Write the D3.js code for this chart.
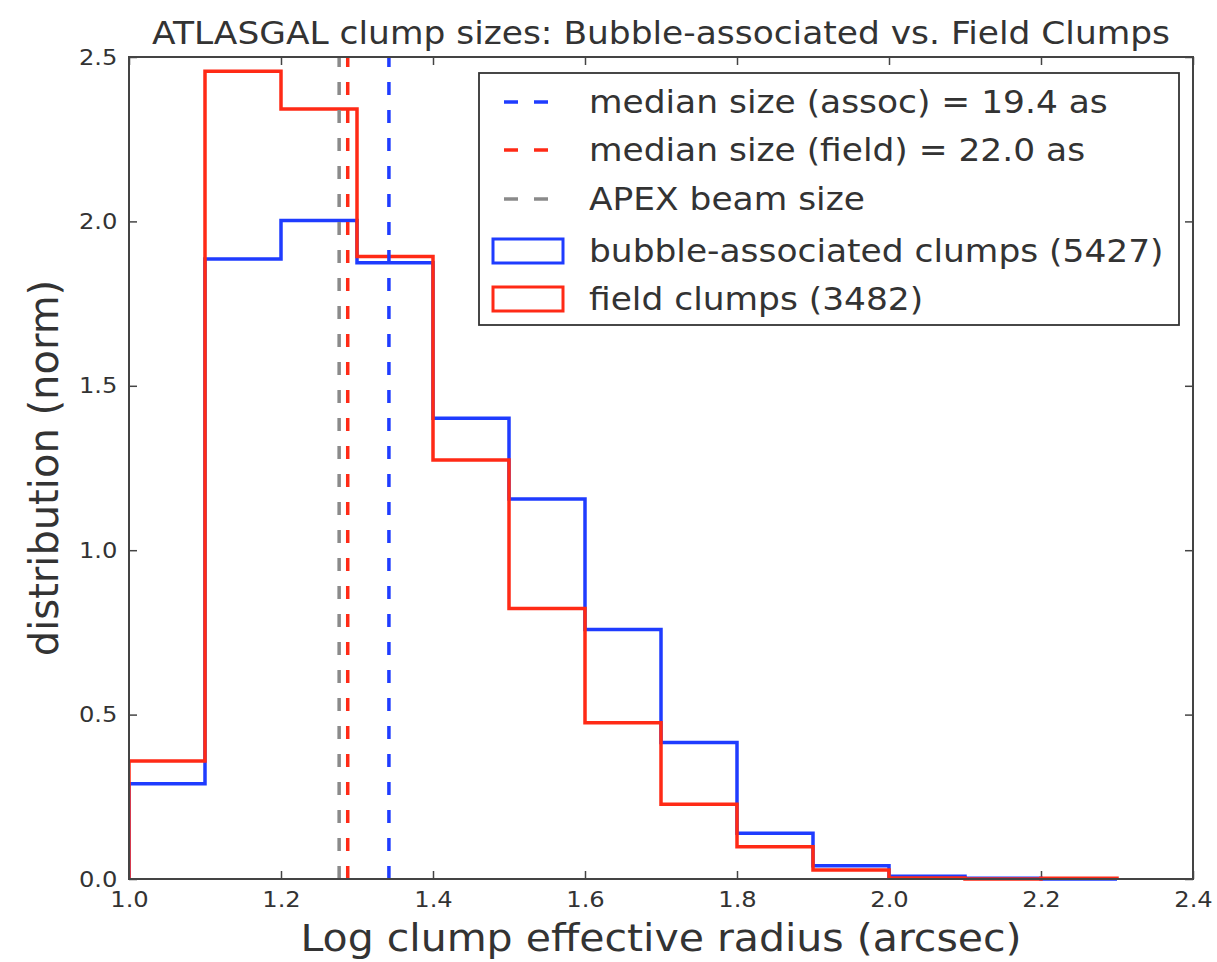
<!DOCTYPE html>
<html>
<head>
<meta charset="utf-8">
<script src="https://cdn.jsdelivr.net/npm/d3@7"></script>
<style>
  html, body { margin: 0; padding: 0; background: #fff; }
  svg { display: block; font-family: "DejaVu Sans", sans-serif; }
</style>
</head>
<body>
<svg id="chart" width="1217" height="962"></svg>
<script>
// Histogram bin edges (log10 of effective radius in arcsec)
const binEdges = [1.0, 1.1, 1.2, 1.3, 1.4, 1.5, 1.6, 1.7, 1.8, 1.9, 2.0, 2.1, 2.2, 2.3];
// Normalised distribution per bin
const assocValues = [0.29, 1.886, 2.003, 1.874, 1.401, 1.156, 0.759, 0.415, 0.139, 0.040, 0.008, 0.002, 0.0];
const fieldValues = [0.359, 2.457, 2.342, 1.893, 1.274, 0.823, 0.475, 0.227, 0.098, 0.027, 0.003, 0.0, 0.002];
// Vertical reference lines (log10 arcsec)
const medianAssoc = 1.342;
const medianField = 1.2878;
const beamSize = 1.2765;
// Tick values
const xTicks = [1.0, 1.2, 1.4, 1.6, 1.8, 2.0, 2.2, 2.4];
const yTicks = [0.0, 0.5, 1.0, 1.5, 2.0, 2.5];
// Legend entries
const legendLabels = [
  "median size (assoc) = 19.4 as",
  "median size (field) = 22.0 as",
  "APEX beam size",
  "bubble-associated clumps (5427)",
  "field clumps (3482)"
];

const BLUE = "#1f3cff", RED = "#ff2a16", GRAY = "#8a8a8a";
const AXIS = "#444", TEXT = "#333";
const WIDE = "scale(1.1,1)";   // slightly widened lettering

const svg = d3.select("#chart");
const plotL = 129, plotR = 1193, plotT = 57, plotB = 879;

const x = d3.scaleLinear().domain([1.0, 2.4]).range([plotL, plotR]);
const y = d3.scaleLinear().domain([0, 2.5]).range([plotB, plotT]);

svg.append("defs").append("clipPath").attr("id", "plotclip")
  .append("rect").attr("x", plotL).attr("y", plotT - 2)
  .attr("width", plotR - plotL).attr("height", plotB - plotT + 4);

// Axes with inward ticks on all four sides
function styleAxis(g) {
  g.select(".domain").remove();
  g.selectAll(".tick line").attr("stroke", AXIS).attr("stroke-width", 1.5);
  g.selectAll(".tick text").attr("fill", TEXT).attr("font-size", 22)
    .attr("font-family", "DejaVu Sans, sans-serif")
    .attr("transform", WIDE);
}
const fmt = d3.format(".1f");
svg.append("g").attr("transform", `translate(0,${plotB})`)
  .call(d3.axisBottom(x).tickValues(xTicks).tickFormat(fmt).tickSize(-8).tickPadding(12))
  .call(styleAxis);
svg.append("g").attr("transform", `translate(0,${plotT})`)
  .call(d3.axisTop(x).tickValues(xTicks).tickFormat("").tickSize(-8))
  .call(styleAxis);
svg.append("g").attr("transform", `translate(${plotL},0)`)
  .call(d3.axisLeft(y).tickValues(yTicks).tickFormat(fmt).tickSize(-8).tickPadding(10.5))
  .call(styleAxis);
svg.append("g").attr("transform", `translate(${plotR},0)`)
  .call(d3.axisRight(y).tickValues(yTicks).tickFormat("").tickSize(-8))
  .call(styleAxis);

// Step outline of a histogram
function stepPoints(values) {
  const pts = [[binEdges[0], 0]];
  values.forEach((v, i) => {
    pts.push([binEdges[i], v]);
    pts.push([binEdges[i + 1], v]);
  });
  pts.push([binEdges[values.length], 0]);
  return pts;
}
const line = d3.line().x(d => x(d[0])).y(d => y(d[1]));

const plot = svg.append("g").attr("clip-path", "url(#plotclip)");
plot.append("path").datum(stepPoints(assocValues))
  .attr("d", line).attr("fill", "none").attr("stroke", BLUE)
  .attr("stroke-width", 3.5).attr("stroke-linejoin", "miter");
plot.append("path").datum(stepPoints(fieldValues))
  .attr("d", line).attr("fill", "none").attr("stroke", RED)
  .attr("stroke-width", 3.5).attr("stroke-linejoin", "miter");

// Dashed vertical markers
[[medianAssoc, BLUE], [medianField, RED], [beamSize, GRAY]].forEach(([v, c]) => {
  plot.append("line")
    .attr("x1", x(v)).attr("x2", x(v))
    .attr("y1", y(0)).attr("y2", y(2.5))
    .attr("stroke", c).attr("stroke-width", 3.5)
    .attr("stroke-dasharray", "13,15");
});

// Frame
svg.append("rect").attr("x", plotL).attr("y", plotT)
  .attr("width", plotR - plotL).attr("height", plotB - plotT)
  .attr("fill", "none").attr("stroke", AXIS).attr("stroke-width", 2);

// Legend
const lg = svg.append("g");
lg.append("rect").attr("x", 479).attr("y", 73).attr("width", 700).attr("height", 252)
  .attr("fill", "#fff").attr("stroke", "#333").attr("stroke-width", 1.8);
const rowY = [102, 150, 199, 251, 299];
const handleColors = [BLUE, RED, GRAY];
handleColors.forEach((c, i) => {
  lg.append("line").attr("x1", 504).attr("x2", 548)
    .attr("y1", rowY[i]).attr("y2", rowY[i])
    .attr("stroke", c).attr("stroke-width", 3.5)
    .attr("stroke-dasharray", "14,16");
});
[BLUE, RED].forEach((c, i) => {
  lg.append("rect").attr("x", 493).attr("y", rowY[3 + i] - 12)
    .attr("width", 70).attr("height", 24)
    .attr("fill", "none").attr("stroke", c).attr("stroke-width", 3);
});
legendLabels.forEach((t, i) => {
  lg.append("g").attr("transform", `translate(589,${rowY[i]}) ${WIDE}`)
    .append("text").attr("dy", "0.36em")
    .attr("font-size", 31.3).attr("fill", TEXT).text(t);
});

// Title and axis labels
svg.append("g").attr("transform", `translate(${(plotL + plotR) / 2},44) ${WIDE}`)
  .append("text").attr("text-anchor", "middle").attr("font-size", 31.3).attr("fill", TEXT)
  .text("ATLASGAL clump sizes: Bubble-associated vs. Field Clumps");
svg.append("g").attr("transform", `translate(${(plotL + plotR) / 2},951) ${WIDE}`)
  .append("text").attr("text-anchor", "middle").attr("font-size", 37.3).attr("fill", TEXT)
  .text("Log clump effective radius (arcsec)");
svg.append("text")
  .attr("transform", `translate(58,${(plotT + plotB) / 2}) rotate(-90)`)
  .attr("text-anchor", "middle").attr("font-size", 40).attr("fill", TEXT)
  .text("distribution (norm)");
</script>
</body>
</html>
